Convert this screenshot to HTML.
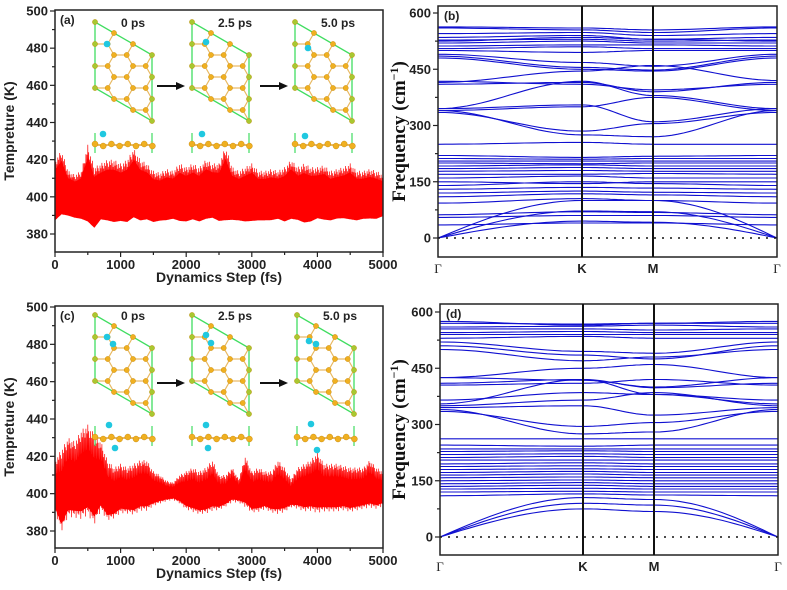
<!DOCTYPE html>
<html><head><meta charset="utf-8"><style>
html,body{margin:0;padding:0;background:#fff;}
svg{display:block;}
.tk{font-family:"Liberation Sans",Arial,sans-serif;font-weight:bold;font-size:13px;fill:#222;}
.ttl{font-family:"Liberation Sans",Arial,sans-serif;font-weight:bold;font-size:14px;fill:#222;}
.ser{font-family:"Liberation Serif",serif;font-weight:bold;font-size:19px;fill:#111;}
.lab{font-family:"Liberation Sans",Arial,sans-serif;font-weight:bold;font-size:12px;fill:#222;}
</style></head><body>
<svg id="fig" width="787" height="590" viewBox="0 0 787 590" xmlns="http://www.w3.org/2000/svg"></svg>
<script>
// ---------- data ----------
var stepsFs=[];for(var s=0;s<=5000;s+=100)stepsFs.push(s);
var tempMaxA=[420,425,414,412,414,428,416,418,420,420,418,420,426,420,418,414,413,415,414,418,416,418,416,420,418,418,427,416,414,416,418,414,414,415,414,416,420,416,418,416,416,417,414,415,416,418,414,414,415,414,412];
var tempMinA=[382,385,386,385,384,380,378,383,382,381,382,381,383,382,383,382,383,383,384,382,382,383,382,383,384,382,381,383,383,382,382,383,383,383,384,382,383,383,381,382,384,383,383,384,384,383,383,384,384,384,386];
var tempMaxC=[418,424,430,428,434,437,432,428,418,414,416,414,416,418,418,412,410,407,406,410,412,414,412,414,418,410,410,414,408,420,412,414,412,412,418,414,408,414,416,418,422,416,416,416,415,414,414,414,418,414,412];
var tempMinC=[385,372,380,380,378,380,375,384,380,382,385,385,384,386,386,390,392,394,395,392,388,386,385,385,386,388,390,392,393,388,386,386,388,386,384,386,390,388,386,386,384,386,386,386,387,386,387,388,388,388,390];
var tempTicks=[380,400,420,440,460,480,500];
var stepTicks=[0,1000,2000,3000,4000,5000];
var freqTicks=[0,150,300,450,600];
var kLabels=["Γ","K","M","Γ"];
// bands: frequency at Γ, K, M, Γ
var bandsB=[[0,100,100,0],[0,72,70,0],[0,45,42,0],[35,40,40,35],[55,60,60,55],[62,70,68,62],[93,105,100,93],[110,118,115,110],[120,125,122,120],[130,135,133,130],[140,150,145,140],[150,145,150,150],[160,165,160,160],[170,170,172,170],[178,180,178,178],[185,188,185,185],[192,195,192,192],[200,198,200,200],[205,205,205,205],[212,210,212,212],[220,215,218,220],[250,255,250,250],
[340,275,270,340],[335,285,305,335],[345,355,310,345],[340,350,375,340],[345,418,380,345],[410,415,390,415],[418,410,395,410],[415,445,460,420],[485,455,448,485],[480,450,445,480],[490,468,458,490],
[500,495,500,500],[505,510,505,505],[512,515,515,512],[520,525,520,520],[525,535,530,525],[528,530,525,528],[535,540,530,535],[545,548,540,545],[560,555,548,560],[563,560,555,563]];
var bandsD=[[0,105,100,0],[0,90,85,0],[0,75,68,0],[110,115,112,110],[120,122,120,120],[128,130,128,128],[135,138,135,135],[142,145,142,142],[150,152,150,150],[158,160,158,158],[165,168,165,165],[172,175,172,172],[180,182,180,180],[188,190,188,188],[195,198,195,195],[205,205,205,205],[212,215,212,212],[220,222,220,220],[228,230,228,228],[235,235,235,235],[245,242,245,245],[262,262,262,262],
[335,295,305,335],[340,275,280,340],[345,350,325,345],[350,365,385,350],[355,420,380,355],[365,385,380,365],[410,420,398,410],[425,418,400,425],[425,450,460,425],[405,410,420,405],
[500,470,480,500],[510,485,475,510],[520,495,490,520],[530,535,530,530],[540,540,540,540],[545,548,545,545],[555,555,552,555],[560,562,565,560],[570,568,570,570],[575,565,570,575]];

var NS="http://www.w3.org/2000/svg",svg=document.getElementById('fig');
function el(tag,attrs,parent,txt){var e=document.createElementNS(NS,tag);for(var k in attrs)e.setAttribute(k,attrs[k]);if(txt!==undefined)e.textContent=txt;(parent||svg).appendChild(e);return e;}

// ---------- temperature panel ----------
function tempPanel(id,top,bottom,y500,y380,maxArr,minArr,coreFrac){
  var L=55,R=383;
  var g=el('g',{});
  
  
  function xs(v){return L+v*(R-L)/5000;}
  function ys(t){return y500+(500-t)*(y380-y500)/120;}
  var pat=[1,0.62,0.9,0.5,0.8,0.7,0.95,0.55,0.85,0.6];
  var pts=[],core1=[],core2=[];var n=0;
  for(var i=0;i<stepsFs.length-1;i++){
    for(var k=0;k<14;k++){
      var f=k/14,hi=maxArr[i]+(maxArr[i+1]-maxArr[i])*f,lo=minArr[i]+(minArr[i+1]-minArr[i])*f;
      var c=(hi+lo)/2,h=(hi-lo)/2,p=pat[n%pat.length];
      var v=(n%2?c-h*p:c+h*p);n++;
      var xx=xs(stepsFs[i]+(stepsFs[i+1]-stepsFs[i])*f);
      pts.push(xx.toFixed(1)+','+ys(v).toFixed(1));
      core1.push(xx.toFixed(1)+','+ys(c+h*coreFrac).toFixed(1));
      core2.unshift(xx.toFixed(1)+','+ys(c-h*coreFrac).toFixed(1));
    }
  }
  var core=el('polygon',{points:core1.concat(core2).join(' '),fill:'#f00'},g);
  
  
  var tr=el('polyline',{points:pts.join(' '),fill:'none',stroke:'#f00','stroke-width':0.7},g);
  
  
  el('rect',{x:L,y:top,width:R-L,height:bottom-top,fill:'none',stroke:'#222','stroke-width':1.5},g);
  for(var t=370;t<=500;t+=10){var yy=ys(t);if(yy<top-0.5||yy>bottom+0.5)continue;var maj=tempTicks.indexOf(t)>=0;
    el('line',{x1:L,x2:L-(maj?5:3),y1:yy,y2:yy,stroke:'#222','stroke-width':1.2},g);}
  tempTicks.forEach(function(t){var lb=el('text',{x:L-7,y:ys(t)+4.5,'text-anchor':'end','class':'tk'},g,t);
    });
  for(var v=0;v<=5000;v+=500){var maj=v%1000===0;el('line',{x1:xs(v),x2:xs(v),y1:bottom,y2:bottom+(maj?5:3),stroke:'#222','stroke-width':1.2},g);}
  stepTicks.forEach(function(v){var lb=el('text',{x:xs(v),y:bottom+17,'text-anchor':'middle','class':'tk'},g,v);
    });
  var xt=el('text',{x:(L+R)/2,y:bottom+30,'text-anchor':'middle','class':'ttl'},g,'Dynamics Step (fs)');
  
  var yt=el('text',{x:0,y:0,'text-anchor':'middle','class':'ttl',transform:'translate(14,'+((top+bottom)/2)+') rotate(-90)'},g,'Tempreture (K)');
  
  var pl=el('text',{x:L+5,y:top+14,'class':'lab'},g,'('+id+')');
  
  return g;
}

// ---------- inset structures ----------
function structure(ox,oy,cyanPts,label,side){
  var g=el('g',{});
  
  
  var b=12.7,atoms=[];
  for(var i=-1;i<5;i++)for(var j=-1;j<5;j++){
    var x=i*19,y=j*22+i*11;
    [[x,y],[x+b,y]].forEach(function(p){
      if(p[0]>=-0.5&&p[0]<=57.5&&p[1]-p[0]*33/57>=-0.5&&p[1]-p[0]*33/57<=66.5){atoms.push(p);}
    });
  }
  atoms.forEach(function(p){atoms.forEach(function(q){var d=Math.hypot(p[0]-q[0],p[1]-q[1]);if(d>6&&d<13.5&&p[0]<=q[0])el('line',{x1:ox+p[0],y1:oy+p[1],x2:ox+q[0],y2:oy+q[1],stroke:'#e8b860','stroke-width':1.2},g);});});
  el('polygon',{points:[ox,oy,ox,oy+66,ox+57,oy+99,ox+57,oy+33].join(' '),fill:'none',stroke:'#40dd60','stroke-width':1.3},g);
  atoms.forEach(function(p){var edge=p[0]<1||p[0]>56;el('circle',{cx:ox+p[0],cy:oy+p[1],r:2.6,fill:edge?'#a8c830':'#f0b020',stroke:'#c08000','stroke-width':0.4},g);});
  cyanPts.forEach(function(c){el('circle',{cx:ox+c[0],cy:oy+c[1],r:3.3,fill:'#20c8e0'},g);});
  var lb=el('text',{x:ox+26,y:oy+5,'class':'lab'},g,label);
  
  var sy=oy+123;
  el('line',{x1:ox,x2:ox,y1:sy-12,y2:sy+8,stroke:'#40dd60','stroke-width':1.2},g);
  el('line',{x1:ox+57,x2:ox+57,y1:sy-12,y2:sy+8,stroke:'#40dd60','stroke-width':1.2},g);
  el('line',{x1:ox-2,x2:ox+60,y1:sy,y2:sy,stroke:'#e0a030','stroke-width':1.6},g);
  for(var k=0;k<8;k++)el('circle',{cx:ox+k*8.2,cy:sy+(k%2?1:-1),r:3,fill:'#f0b020',stroke:'#c08000','stroke-width':0.4},g);
  side.forEach(function(c){el('circle',{cx:ox+c[0],cy:sy+c[1],r:3.3,fill:'#20c8e0'},g);});
}
function arrow(x,y){var g=el('g',{});
  el('line',{x1:x,x2:x+20,y1:y,y2:y,stroke:'#111','stroke-width':2},g);
  el('polygon',{points:[x+19,y-4,x+28,y,x+19,y+4].join(' '),fill:'#111'},g);}

// ---------- band panel ----------
function bandPanel(id,L,R,top,bottom,y0,kx,mx,bands){
  var g=el('g',{});
  
  
  function ys(f){return y0-f*225/600;}
  var xsN=[L,kx,mx,R];
  bands.forEach(function(b){
    var d='';
    for(var s=0;s<3;s++){for(var k=0;k<=20;k++){var t=k/20,w=(1-Math.cos(Math.PI*t))/2;
      var f=b[s]+(b[s+1]-b[s])*(s===0&&b[0]===0?Math.sin(Math.PI*t/2):s===2&&b[3]===0?1-Math.cos(Math.PI*t/2):w);
      var x=xsN[s]+(xsN[s+1]-xsN[s])*t;d+=(d?'L':'M')+x.toFixed(1)+','+ys(f).toFixed(1);}}
    var p=el('path',{d:d,fill:'none',stroke:'#1010d0','stroke-width':1.1},g);
    
    
  });
  el('line',{x1:L,x2:R,y1:ys(0),y2:ys(0),stroke:'#111','stroke-width':1.5,'stroke-dasharray':'2,6'},g);
  el('rect',{x:L,y:top,width:R-L,height:bottom-top,fill:'none',stroke:'#222','stroke-width':1.5},g);
  [kx,mx].forEach(function(x){el('line',{x1:x,x2:x,y1:top,y2:bottom,stroke:'#111','stroke-width':2},g);});
  for(var f=-75;f<=600;f+=75){var yy=ys(f);if(yy>bottom)continue;var maj=freqTicks.indexOf(f)>=0;
    el('line',{x1:L,x2:L-(maj?5:3),y1:yy,y2:yy,stroke:'#222','stroke-width':1.2},g);}
  freqTicks.forEach(function(f){var lb=el('text',{x:L-7,y:ys(f)+4.5,'text-anchor':'end','class':'tk'},g,f);
    });
  kLabels.forEach(function(k,i){var lb=el('text',{x:xsN[i],y:bottom+16,'text-anchor':'middle','class':'tk',style:k==='Γ'?'font-family:Liberation Serif,serif;font-weight:normal':''},g,k);
    });
  var yt=el('text',{x:0,y:0,'text-anchor':'middle','class':'ser',transform:'translate(405,'+((top+bottom)/2)+') rotate(-90)'},g);
  
  el('tspan',{},yt,'Frequency (cm');el('tspan',{dy:-7,'font-size':'12'},yt,'−1');el('tspan',{dy:7},yt,')');
  var pl=el('text',{x:L+6,y:top+14,'class':'lab'},g,'('+id+')');
  
}

tempPanel('a',10,252,11,234,tempMaxA,tempMinA,0.72);
tempPanel('c',306,548,307,531,tempMaxC,tempMinC,0.55);
structure(95,22,[[12,22]],'0 ps',[[8,-11]]);
structure(192,22,[[14,20]],'2.5 ps',[[10,-11]]);
structure(295,22,[[13,26]],'5.0 ps',[[10,-9]]);
arrow(157,86);arrow(260,86);
structure(95,315,[[12,22],[18,29]],'0 ps',[[14,-13],[20,10]]);
structure(192,315,[[14,20],[19,28]],'2.5 ps',[[14,-13],[16,10]]);
structure(297,315,[[12,26],[19,29]],'5.0 ps',[[14,-14],[20,12]]);
arrow(157,383);arrow(260,383);
bandPanel('b',438,777,6,257,238,582,653,bandsB);
bandPanel('d',440,778,304,555,537,583,654,bandsD);
</script>
</body></html>
